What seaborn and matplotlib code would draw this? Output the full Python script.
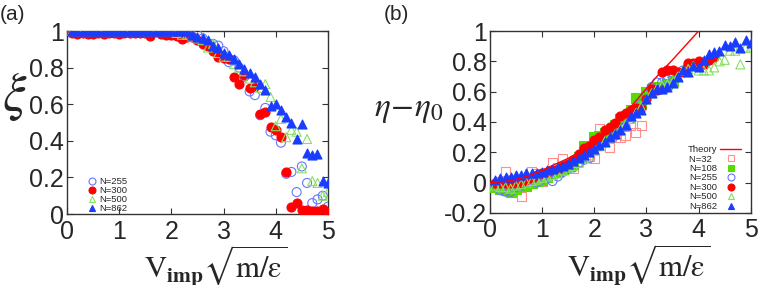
import numpy as np
import pandas as pd
import matplotlib
matplotlib.use("Agg")
import matplotlib.pyplot as plt
import matplotlib.lines as mlines
import seaborn as sns

# ---------- data ----------
v_grid = [round(0.1 * i, 1) for i in range(1, 51)]

# panel (a): xi vs V_imp
xi_255 = [1.0] * 18 + [0.98, 0.98, 0.99, 0.99, 0.98, 0.97, 0.98, 0.96, 0.93, 0.93,
                       0.92, 0.89, 0.83, 0.84, 0.80, 0.75, 0.67, 0.65, 0.54, 0.58,
                       0.45, 0.43, 0.39, 0.22, 0.23, 0.12, 0.26, 0.17, 0.06, 0.08,
                       0.10, 0.04]
xi_300 = [0.99, 0.985, 0.99, 0.985, 0.985, 0.99, 0.985, 0.99, 0.99, 0.985,
          0.99, 0.99, 0.99, 0.99, 0.99, 0.975, 0.995, 0.985, 0.98, 0.98,
          0.975, 0.955, 0.965, 0.965, 0.95, 0.93, 0.92, 0.89, 0.86, 0.855,
          0.85, 0.75, 0.71, 0.76, 0.69, 0.70, 0.545, 0.555, 0.475, 0.46,
          0.42, 0.23, 0.04, 0.06, 0.02, 0.02, 0.015, 0.015, 0.025, 0.01]
xi_500 = [1.0] * 20 + [0.99, 0.98, 0.98, 0.97, 0.96, 0.95, 0.91, 0.93, 0.88, 0.86,
                       0.86, 0.82, 0.80, 0.78, 0.74, 0.72, 0.69, 0.71, 0.64, 0.48,
                       0.52, 0.42, 0.46, 0.45, 0.25, 0.41, 0.18, 0.17, 0.10, 0.12]
xi_862 = [1.0] * 23 + [0.98, 0.97, 0.96, 0.95, 0.92, 0.91, 0.88, 0.87, 0.85, 0.82,
                       0.79, 0.77, 0.75, 0.71, 0.68, 0.59, 0.60, 0.57, 0.53, 0.50,
                       0.41, 0.49, 0.335, 0.32, 0.33, 0.18, 0.17]

# panel (b): eta - eta0 vs V_imp
eta_32 = [-0.01, 0.01, 0.07, 0.02, 0.0, -0.09, 0.03, 0.07, 0.06, 0.01,
          0.06, 0.13, 0.10, 0.16, 0.12, 0.09, 0.14, 0.20, 0.17, 0.16,
          0.36, 0.28, 0.23, 0.30, 0.30, 0.31, 0.38, 0.33, 0.38]
eta_108 = [-0.03, -0.04, -0.05, -0.06, -0.04, -0.02, -0.02, 0.0, 0.01, 0.02,
           0.04, 0.06, 0.07, 0.09, 0.11, 0.12, 0.17, 0.24, 0.22, 0.30,
           0.31, 0.33, 0.34, 0.38, 0.42, 0.44, 0.48, 0.56, 0.52, 0.60,
           0.62, 0.63, 0.63, 0.65, 0.67]
eta_255 = [-0.02, -0.05, -0.06, -0.06, -0.03, -0.02, 0.0, 0.01, 0.0, 0.02,
           0.03, 0.01, 0.04, 0.07, 0.09, 0.10, 0.13, 0.15, 0.16, 0.22,
           0.24, 0.27, 0.30, 0.31, 0.36, 0.37, 0.42, 0.47, 0.52, 0.58,
           0.63, 0.66, 0.66, 0.68, 0.70, 0.72, 0.74, 0.77, 0.77]
eta_300 = [-0.005, 0.0, 0.0, -0.005, 0.0, 0.0, 0.02, 0.03, 0.05, 0.06,
           0.07, 0.08, 0.09, 0.11, 0.12, 0.15, 0.19, 0.23, 0.24, 0.28,
           0.30, 0.35, 0.37, 0.39, 0.44, 0.46, 0.48, 0.49, 0.49, 0.55,
           0.62, 0.61, 0.73, 0.74, 0.74, 0.73, 0.73, 0.79, 0.79, 0.80,
           0.78, 0.81, 0.83]
eta_500 = [-0.02, -0.03, -0.03, -0.04, -0.02, -0.01, 0.0, 0.01, 0.02, 0.03,
           0.04, 0.05, 0.06, 0.08, 0.10, 0.11, 0.13, 0.16, 0.18, 0.21,
           0.24, 0.27, 0.29, 0.32, 0.35, 0.38, 0.42, 0.46, 0.50, 0.55,
           0.59, 0.62, 0.64, 0.65, 0.66, 0.70, 0.74, 0.75, 0.77, 0.74,
           0.74, 0.74, 0.76, 0.80, 0.81, 0.87, 0.87, 0.78, 0.89, 0.89]
eta_862 = [0.02, 0.03, 0.04, 0.04, 0.05, 0.05, 0.06, 0.06, 0.06, 0.07,
           0.08, 0.09, 0.10, 0.11, 0.12, 0.14, 0.16, 0.18, 0.20, 0.22,
           0.25, 0.27, 0.30, 0.32, 0.35, 0.38, 0.44, 0.46, 0.48, 0.55,
           0.59, 0.62, 0.62, 0.63, 0.66, 0.70, 0.74, 0.73, 0.77, 0.76,
           0.81, 0.85, 0.86, 0.87, 0.91, 0.90, 0.93, 0.89, 0.94, 0.92]

theory_x = [0.0, 0.25, 0.5, 0.75, 1.0, 1.25, 1.5, 1.75, 2.0, 2.25, 2.5,
            2.75, 3.0, 3.25, 3.5, 3.75, 4.0, 4.25]
theory_y = [0.0, 0.005, 0.02, 0.045, 0.08, 0.12, 0.16, 0.21, 0.26, 0.33, 0.42,
            0.52, 0.62, 0.72, 0.81, 0.905, 1.0, 1.1]

x_ticks = [0, 1, 2, 3, 4, 5]
a_yticks = [0, 0.2, 0.4, 0.6, 0.8, 1.0]
a_ylabels = ["0", "0.2", "0.4", "0.6", "0.8", "1"]
b_yticks = [-0.2, 0, 0.2, 0.4, 0.6, 0.8, 1.0]
b_ylabels = ["-0.2", "0", "0.2", "0.4", "0.6", "0.8", "1"]

# ---------- styles ----------
sty = {
    "N=32":  dict(marker="s", fc="none", ec="#ff8f8f"),
    "N=108": dict(marker="s", fc="#55dd00", ec="#55dd00"),
    "N=255": dict(marker="o", fc="none", ec="#6677ff"),
    "N=300": dict(marker="o", fc="#ff0000", ec="#ff0000"),
    "N=500": dict(marker="^", fc="none", ec="#88e060"),
    "N=862": dict(marker="^", fc="#1a3cff", ec="#1a3cff"),
}

sns.set_style("ticks")
plt.rcParams["font.family"] = ["Liberation Sans", "DejaVu Sans"]
plt.rcParams["mathtext.fontset"] = "stix"

fig = plt.figure(figsize=(7.63, 2.85), dpi=100)
axa = fig.add_axes([0.0878, 0.249, 0.342, 0.642])
axb = fig.add_axes([0.642, 0.253, 0.342, 0.638])


def draw(ax, label, xs, ys, s=42):
    st = sty[label]
    sns.scatterplot(x=xs, y=ys, ax=ax, marker=st["marker"], s=s,
                    facecolor=st["fc"], edgecolor=st["ec"], linewidth=0.8,
                    zorder=3)


def handle(label, text=None):
    st = sty[label]
    return mlines.Line2D([], [], ls="none", marker=st["marker"], markersize=5,
                         markerfacecolor=st["fc"], markeredgecolor=st["ec"],
                         markeredgewidth=0.8, label=text or label)


# panel (a)
for lab, ys in [("N=255", xi_255), ("N=300", xi_300), ("N=500", xi_500), ("N=862", xi_862)]:
    draw(axa, lab, v_grid, ys)

# panel (b)
sns.lineplot(x=theory_x, y=theory_y, ax=axb, color="#ff0000", lw=1.0, zorder=4)
for lab, ys in [("N=32", eta_32), ("N=108", eta_108), ("N=255", eta_255),
                ("N=300", eta_300), ("N=500", eta_500), ("N=862", eta_862)]:
    draw(axb, lab, v_grid[:len(ys)], ys)

xlab = r"$\mathrm{V}_{\mathbf{imp}}\sqrt{\mathrm{m}/\mathrm{ε}}$"
for ax in (axa, axb):
    ax.set_xlim(0, 5)
    ax.set_xticks(x_ticks)
    ax.set_xticklabels([str(t) for t in x_ticks])
    ax.tick_params(direction="in", top=True, right=True, length=4, width=0.8,
                   labelsize=18, color="#333333")
    ax.tick_params(axis="x", pad=4)
    ax.tick_params(axis="y", pad=2)
    for sp in ax.spines.values():
        sp.set_linewidth(1.0)
        sp.set_color("#333333")
    ax.set_xlabel(xlab, fontsize=22, labelpad=0)
    ax.xaxis.set_label_coords(0.57, -0.165)

axa.set_ylim(0, 1)
axa.set_yticks(a_yticks)
axa.set_yticklabels(a_ylabels)
axa.set_ylabel(r"$\xi$", fontsize=38, rotation=0, va="center")
axa.yaxis.set_label_coords(-0.2, 0.64)

axb.set_ylim(-0.2, 1)
axb.set_yticks(b_yticks)
axb.set_yticklabels(b_ylabels)
axb.set_ylabel(r"$\eta\!-\!\eta_0$", fontsize=24, rotation=0, va="center")
axb.yaxis.set_label_coords(-0.31, 0.57)

axa.legend(handles=[handle(l) for l in ["N=255", "N=300", "N=500", "N=862"]],
           loc="lower left", bbox_to_anchor=(0.06, -0.025), frameon=False,
           fontsize=6.8, handlelength=0.8, handletextpad=0.4,
           labelspacing=0.0, borderpad=0.1)

theory_h = mlines.Line2D([], [], color="#ff0000", lw=1.0, label="Theory")
b_handles = [theory_h] + [handle(l, l + "\u2007" * (5 - len(l))) for l in sty]
axb.legend(handles=b_handles,
           loc="lower right", bbox_to_anchor=(0.985, -0.02), frameon=False,
           fontsize=6.8, handlelength=2.2, handletextpad=0.3,
           labelspacing=0.05, borderpad=0.1, markerfirst=False)

fig.text(0.0, 0.95, "(a)", fontsize=15, va="center", ha="left")
fig.text(0.503, 0.95, "(b)", fontsize=15, va="center", ha="left")

fig.savefig("out.png", dpi=100, facecolor="white")
